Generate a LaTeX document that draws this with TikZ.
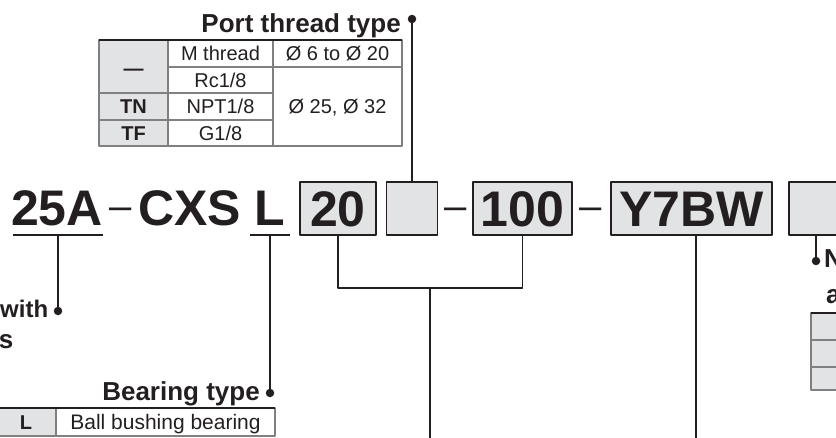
\documentclass[tikz,border=0pt]{standalone}
\usepackage{fontspec}
\setmainfont{Liberation Sans}
\definecolor{ink}{HTML}{231F20}
\definecolor{cellgray}{HTML}{E2E3E4}
\definecolor{rulegray}{HTML}{808080}
\begin{document}
\begin{tikzpicture}[x=1pt, y=-1pt, line join=round, ink,
	code/.style={font=\fontsize{50}{60}\selectfont\bfseries, inner sep=0pt},
	dashsign/.style={font=\fontsize{40}{48}\selectfont, inner sep=0pt},
	partbox/.style={draw=ink, line width=1.6pt, fill=cellgray, minimum height=53pt, inner sep=0pt,
		font=\fontsize{50}{60}\selectfont\bfseries, text height=36pt, text depth=0pt},
	title/.style={font=\fontsize{26}{30}\selectfont\bfseries, inner sep=0pt},
	cell/.style={font=\fontsize{20}{24}\selectfont, inner sep=0pt, text height=14.3pt, text depth=0pt},
	lead/.style={line width=1.9pt},
	dot/.style={circle, fill=ink, inner sep=0pt, minimum size=8.5pt}]
	\useasboundingbox (0,0) rectangle (836,437);
	
	% Bảng kiểu ren cổng
	\fill[cellgray] (99,40) rectangle (168,146);
	\draw[rulegray, line width=1.2pt] (99,40) rectangle (402,146)
		(168,40) -- (168,146) (273,40) -- (273,146)
		(168,67) -- (402,67) (99,93) -- (273,93) (99,120) -- (273,120);
	\draw[ink, line width=2pt] (99,40) -- (402,40);
	\foreach \nm/\x/\y/\txt in {pa/133.5/68.5/\textbf{—}, pb/220.5/53.5/M thread, pc/337.5/53.5/Ø 6 to Ø 20,
		pd/220.5/80/Rc1\slash 8, pe/133.5/106.5/\textbf{TN}, pf/220.5/106.5/NPT1\slash 8,
		pg/133.5/133/\textbf{TF}, ph/220.5/133/G1\slash 8} {
		\node[cell] (\nm) at (\x,\y) {\txt};
	}
	\node[cell] (pi) at (337.5,106.5) {Ø 25, Ø 32};
	\node[title, anchor=base east] (lport) at (401,32) {Port thread type};
	
	% Mã sản phẩm
	\node[code, anchor=base west] (t25a) at (11,225) {25A};
	\node[dashsign, anchor=base] (m1) at (121,219.5) {\textendash};
	\node[code, anchor=base west] (tcxs) at (138,225) {CXS};
	\node[code, anchor=base west] (tl) at (254,225) {L};
	\node[partbox, minimum width=76pt] (b20) at (338,208.5) {20};
	\node[partbox, minimum width=51pt] (bport) at (412,208.5) {};
	\node[dashsign, anchor=base] (m2) at (456,219.5) {\textendash};
	\node[partbox, minimum width=99pt] (b100) at (522.5,208.5) {100};
	\node[dashsign, anchor=base] (m3) at (591,219.5) {\textendash};
	\node[partbox, minimum width=161pt] (bsw) at (691.5,208.5) {Y7BW};
	\node[partbox, minimum width=54pt] (bnum) at (816,208.5) {};
	
	% Gạch chân
	\draw[lead] (13,235) -- (103,235);
	\draw[lead] (250,235) -- (290,235);
	
	% Các chấm và nhãn
	\node[dot] (dport) at (412,19) {};
	\node[dot] (dwith) at (58,311) {};
	\node[dot] (dbear) at (270,393) {};
	\node[dot] (dnum) at (816,261) {};
	\node[title, font=\fontsize{24}{28}\selectfont\bfseries, anchor=base west] (lwith) at (0,317) {with};
	\node[title, anchor=base east] (ls) at (13.5,348) {s};
	\node[title, anchor=base east] (lbear) at (260,400) {Bearing type};
	\node[title, anchor=base west] (ln) at (824,267) {N};
	\node[title, anchor=base west] (la) at (826,303) {a};
	
	% Đường dẫn
	\coordinate (u25a) at (58,235);
	\coordinate (ul) at (270,235);
	\coordinate (jn) at (430,288);
	\coordinate (send) at (430,440);
	\coordinate (swend) at (696,440);
	\draw[lead] (dport) -- (bport.north);
	\draw[lead] (u25a) -- (dwith);
	\draw[lead] (ul) -- (dbear);
	\draw[lead] (b20.south) |- (jn) -| (b100.south);
	\draw[lead] (jn) -- (send);
	\draw[lead] (swend |- bsw.south) -- (swend);
	\draw[lead] (bnum.south) -- (dnum);
	
	% Bảng kiểu ổ trục
	\fill[cellgray] (-4,408) rectangle (56,436);
	\draw[rulegray, line width=1.2pt] (-4,408) rectangle (275,436) (56,408) -- (56,436);
	\draw[ink, line width=2pt] (-4,408) -- (275,408);
	\node[cell, font=\fontsize{20}{24}\selectfont\bfseries] (bl) at (26,422) {L};
	\node[cell, font=\fontsize{21}{25}\selectfont] (bball) at (165.5,422) {Ball bushing bearing};
	
	% Bảng bên phải
	\fill[cellgray] (811,313) rectangle (840,390);
	\draw[rulegray, line width=1.2pt] (840,313) -- (811,313) -- (811,390) -- (840,390)
		(811,340) -- (840,340) (811,367) -- (840,367);
	\draw[ink, line width=2pt] (811,313) -- (840,313);
\end{tikzpicture}
\end{document}
